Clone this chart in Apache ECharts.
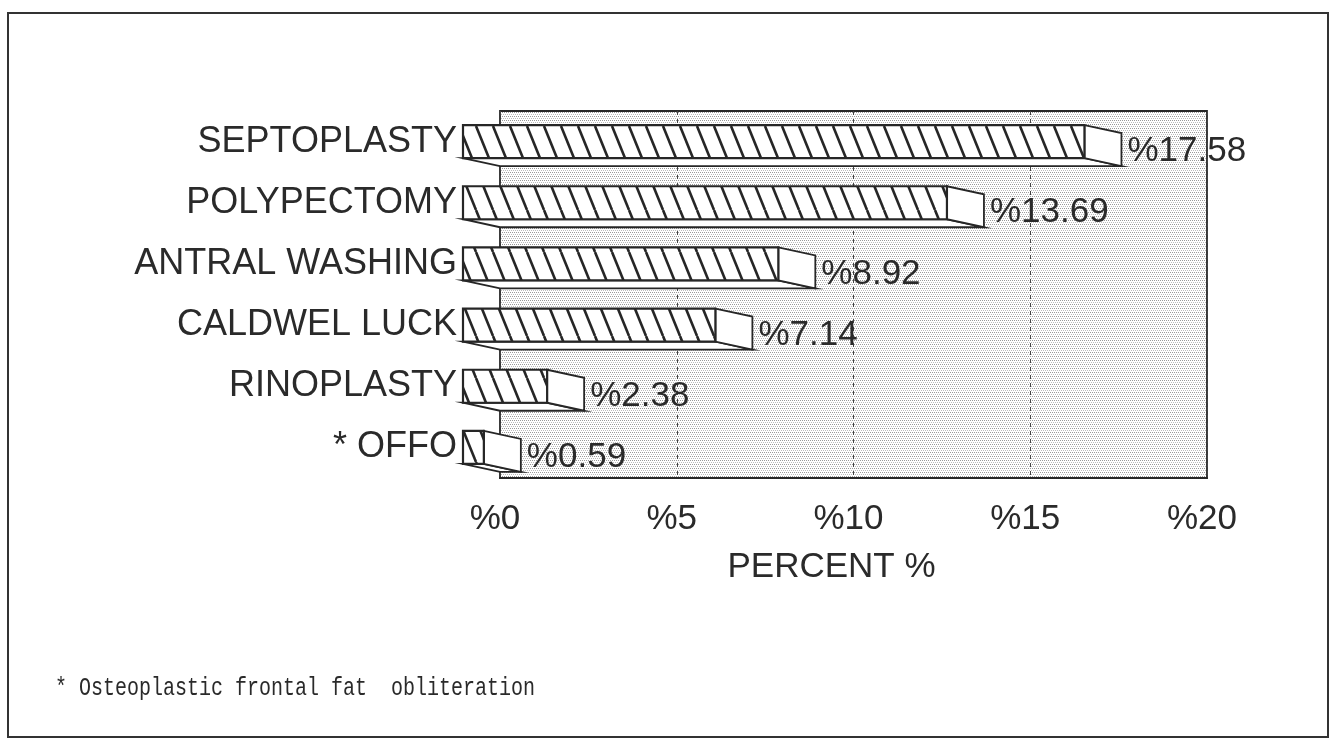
<!DOCTYPE html>
<html>
<head>
<meta charset="utf-8">
<script src="https://cdn.jsdelivr.net/npm/echarts@6/dist/echarts.min.js"></script>
<style>
  html, body { margin: 0; padding: 0; background: #fff; }
  #main { width: 1335px; height: 740px; }
</style>
</head>
<body>
<div id="main"></div>
<script>
// data
var categories = ['SEPTOPLASTY', 'POLYPECTOMY', 'ANTRAL WASHING', 'CALDWEL LUCK', 'RINOPLASTY', '* OFFO'];
var percents = [17.58, 13.69, 8.92, 7.14, 2.38, 0.59];
var percentLabels = ['%17.58', '%13.69', '%8.92', '%7.14', '%2.38', '%0.59'];
var footnote = '* Osteoplastic frontal fat  obliteration';

// depth of the fake 3d bars
var DX = 37, DY = 8, BAR_H = 33;
var INK = '#262626';

// diagonal hatch for the bar fronts
function makeHatch() {
  var c = document.createElement('canvas');
  c.width = 17; c.height = 42;
  var ctx = c.getContext('2d');
  ctx.fillStyle = '#fff';
  ctx.fillRect(0, 0, 17, 42);
  ctx.strokeStyle = INK;
  ctx.lineWidth = 2.6;
  [-17, 0, 17].forEach(function (o) {
    ctx.beginPath();
    ctx.moveTo(o, 0);
    ctx.lineTo(o + 17, 42);
    ctx.stroke();
  });
  return c;
}
// dotted screen for the back wall
function makeStipple() {
  var c = document.createElement('canvas');
  c.width = 4; c.height = 4;
  var ctx = c.getContext('2d');
  ctx.fillStyle = '#fff';
  ctx.fillRect(0, 0, 4, 4);
  ctx.fillStyle = '#999';
  ctx.fillRect(0, 0, 1, 1);
  ctx.fillRect(2, 0, 1, 1);
  ctx.fillStyle = '#bbb';
  ctx.fillRect(1, 2, 1, 1);
  ctx.fillRect(3, 2, 1, 1);
  return c;
}
var hatch = { image: makeHatch(), repeat: 'repeat' };
var stipple = { image: makeStipple(), repeat: 'repeat' };

var chart = echarts.init(document.getElementById('main'));

function renderBar(params, api) {
  var cat = api.value(1);
  var p0 = api.coord([0, cat]);
  var p1 = api.coord([api.value(0), cat]);
  var yt = p0[1] - BAR_H / 2, yb = p0[1] + BAR_H / 2;
  var xf0 = p0[0] - DX, xf1 = p1[0] - DX;
  var line = { stroke: INK, lineWidth: 1.8 };
  return {
    type: 'group',
    children: [
      { // underside
        type: 'polygon',
        shape: { points: [[xf0, yb], [xf1, yb], [xf1 + DX, yb + DY], [xf0 + DX, yb + DY]] },
        style: Object.assign({ fill: '#fff' }, line)
      },
      { // end cap
        type: 'polygon',
        shape: { points: [[xf1, yt], [xf1 + DX, yt + DY], [xf1 + DX, yb + DY], [xf1, yb]] },
        style: Object.assign({ fill: '#fff' }, line)
      },
      { // hatched front
        type: 'rect',
        shape: { x: xf0, y: yt, width: xf1 - xf0, height: BAR_H },
        style: { fill: hatch, stroke: INK, lineWidth: 2.2 }
      },
      {
        type: 'text',
        x: p1[0] + 6,
        y: p0[1] + 10,
        style: {
          text: percentLabels[params.dataIndex],
          fill: '#2a2a2a',
          fontSize: 35,
          fontFamily: 'Liberation Sans, Arial',
          align: 'left',
          verticalAlign: 'middle'
        }
      }
    ]
  };
}

chart.setOption({
  animation: false,
  grid: {
    left: 500, right: 128, top: 111, bottom: 262,
    show: true,
    backgroundColor: stipple,
    borderColor: INK,
    borderWidth: 1.8
  },
  xAxis: {
    type: 'value',
    min: 0, max: 20, interval: 5,
    axisLine: { show: true, lineStyle: { color: INK, width: 2 } },
    axisTick: { show: false },
    splitLine: { show: true, lineStyle: { color: '#444', width: 1, type: [4, 4] } },
    axisLabel: {
      formatter: function (v) { return '%' + v; },
      fontSize: 35, color: '#2a2a2a', fontFamily: 'Liberation Sans, Arial',
      margin: 24, padding: [0, 10, 0, 0]
    },
    name: 'PERCENT %',
    nameLocation: 'middle',
    nameGap: 72,
    nameTextStyle: { fontSize: 35, color: '#2a2a2a', fontFamily: 'Liberation Sans, Arial', padding: [0, 44, 0, 0] }
  },
  yAxis: {
    type: 'category',
    data: categories,
    inverse: true,
    axisLine: { show: false },
    axisTick: { show: false },
    splitLine: { show: false },
    axisLabel: {
      fontSize: 36, color: '#2a2a2a', fontFamily: 'Liberation Sans, Arial',
      margin: 43, padding: [0, 0, 10, 0]
    }
  },
  series: [{
    type: 'custom',
    clip: false,
    renderItem: renderBar,
    encode: { x: 0, y: 1 },
    data: percents.map(function (v, i) { return [v, i]; })
  }],
  graphic: [
    {
      type: 'rect',
      shape: { x: 8, y: 13, width: 1320, height: 724 },
      style: { fill: null, stroke: '#333', lineWidth: 2 },
      silent: true
    },
    {
      type: 'text',
      x: 55, y: 688,
      scaleY: 1.3,
      style: {
        text: footnote, fill: '#2a2a2a', fontSize: 20,
        fontFamily: 'Liberation Mono, monospace', verticalAlign: 'middle'
      }
    }
  ]
});
</script>
</body>
</html>
